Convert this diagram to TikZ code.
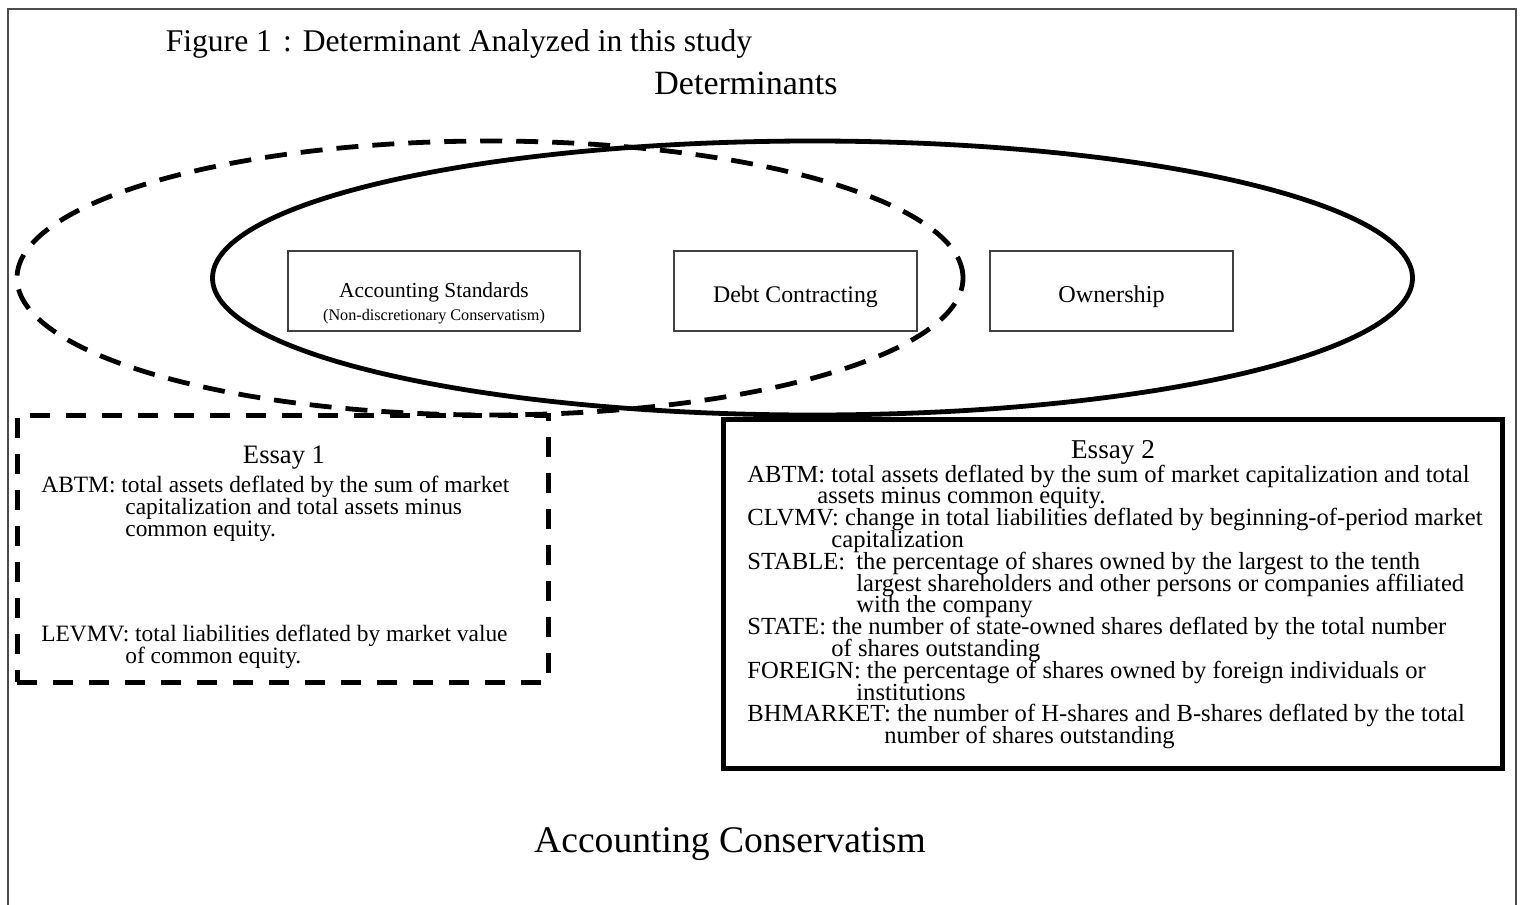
\documentclass[tikz,border=0pt]{standalone}
\usepackage{fontspec}
\setmainfont{Liberation Serif}
\newcommand{\fsz}[1]{\fontsize{#1}{#1}\selectfont}
\begin{document}
\begin{tikzpicture}[x=0.5pt, y=-0.5pt,
  txt/.style={inner sep=0pt, anchor=base west},
  ctxt/.style={inner sep=0pt, anchor=base},
  factorbox/.style={draw=black!75, line width=0.75pt, inner sep=0pt,
    minimum height=40pt},
  essaybox/.style={draw, line width=2.5pt, inner sep=0pt},
  essaydash/.style={essaybox, dash pattern=on 10pt off 8pt},
  etxt/.style={txt, font=\fsz{11.7}},
  ftxt/.style={txt, font=\fsz{12.3}}]
\useasboundingbox (0,0) rectangle (1521,905);
% frame
\draw[black!70, line width=1pt] (8,905) -- (8,9) -- (1516,9) -- (1516,905);
\node[ctxt, font=\fsz{15.8}] (title) at (459,51) {Figure 1\hspace{0.35em}:\hspace{0.35em}Determinant Analyzed in this study};
\node[ctxt, font=\fsz{17}] (detlabel) at (746,94) {Determinants};
% determinant groups
\draw[line width=2.4pt, dash pattern=on 11pt off 7pt] (490,278) ellipse [x radius=236.5pt, y radius=68.5pt];
\draw[line width=2.4pt] (812.5,278) ellipse [x radius=300pt, y radius=68.5pt];
\node[factorbox, minimum width=146pt] (accstd) at (434,291) {};
\node[factorbox, minimum width=121.5pt] (debt) at (795.5,291) {};
\node[factorbox, minimum width=121.5pt] (owner) at (1111.5,291) {};
\node[ctxt, font=\fsz{10.7}] (accstdlab) at (434,297) {Accounting Standards};
\node[ctxt, font=\fsz{8.1}] (nondisc) at (434,320) {(Non-discretionary Conservatism)};
\node[ctxt, font=\fsz{11.9}] (debtlab) at (795.5,302) {Debt Contracting};
\node[ctxt, font=\fsz{12.1}] (ownerlab) at (1111.5,302) {Ownership};
% essay 1
\node[essaydash, minimum width=265.5pt, minimum height=133.5pt] (essay1) at (282.5,548.5) {};
\node[ctxt, font=\fsz{13.3}] (essay1lab) at (284,463) {Essay 1};
\node[etxt] (e1l1) at (41,492) {ABTM: total assets deflated by the sum of market};
\node[etxt] (e1l2) at (125,514) {capitalization and total assets minus};
\node[etxt] (e1l3) at (125,536) {common equity.};
\node[etxt] (e1l4) at (41,641) {LEVMV: total liabilities deflated by market value};
\node[etxt] (e1l5) at (125,663) {of common equity.};
% essay 2
\node[essaybox, minimum width=389.5pt, minimum height=174.5pt] (essay2) at (1112.5,593.5) {};
\node[ctxt, font=\fsz{13.6}] (essay2lab) at (1113,458) {Essay 2};
\node[ftxt] (e2l1) at (747,482) {ABTM: total assets deflated by the sum of market capitalization and total};
\node[ftxt] (e2l2) at (817,503.8) {assets minus common equity.};
\node[ftxt] (e2l3) at (747,525.6) {CLVMV: change in total liabilities deflated by beginning-of-period market};
\node[ftxt] (e2l4) at (831,547.4) {capitalization};
\node[ftxt] (stablelab) at (747,569.2) {STABLE:};
\node[ftxt] (e2l5) at (856,569.2) {the percentage of shares owned by the largest to the tenth};
\node[ftxt] (e2l6) at (856,591) {largest shareholders and other persons or companies affiliated};
\node[ftxt] (e2l7) at (856,612.8) {with the company};
\node[ftxt] (e2l8) at (747,634.6) {STATE: the number of state-owned shares deflated by the total number};
\node[ftxt] (e2l9) at (831,656.4) {of shares outstanding};
\node[ftxt] (e2l10) at (747,678.2) {FOREIGN: the percentage of shares owned by foreign individuals or};
\node[ftxt] (e2l11) at (856,700) {institutions};
\node[ftxt] (e2l12) at (747,721.8) {BHMARKET: the number of H-shares and B-shares deflated by the total};
\node[ftxt] (e2l13) at (884,743.6) {number of shares outstanding};
% outcome
\node[ctxt, font=\fsz{18.8}] (conserv) at (730,852) {Accounting Conservatism};
\end{tikzpicture}
\end{document}
